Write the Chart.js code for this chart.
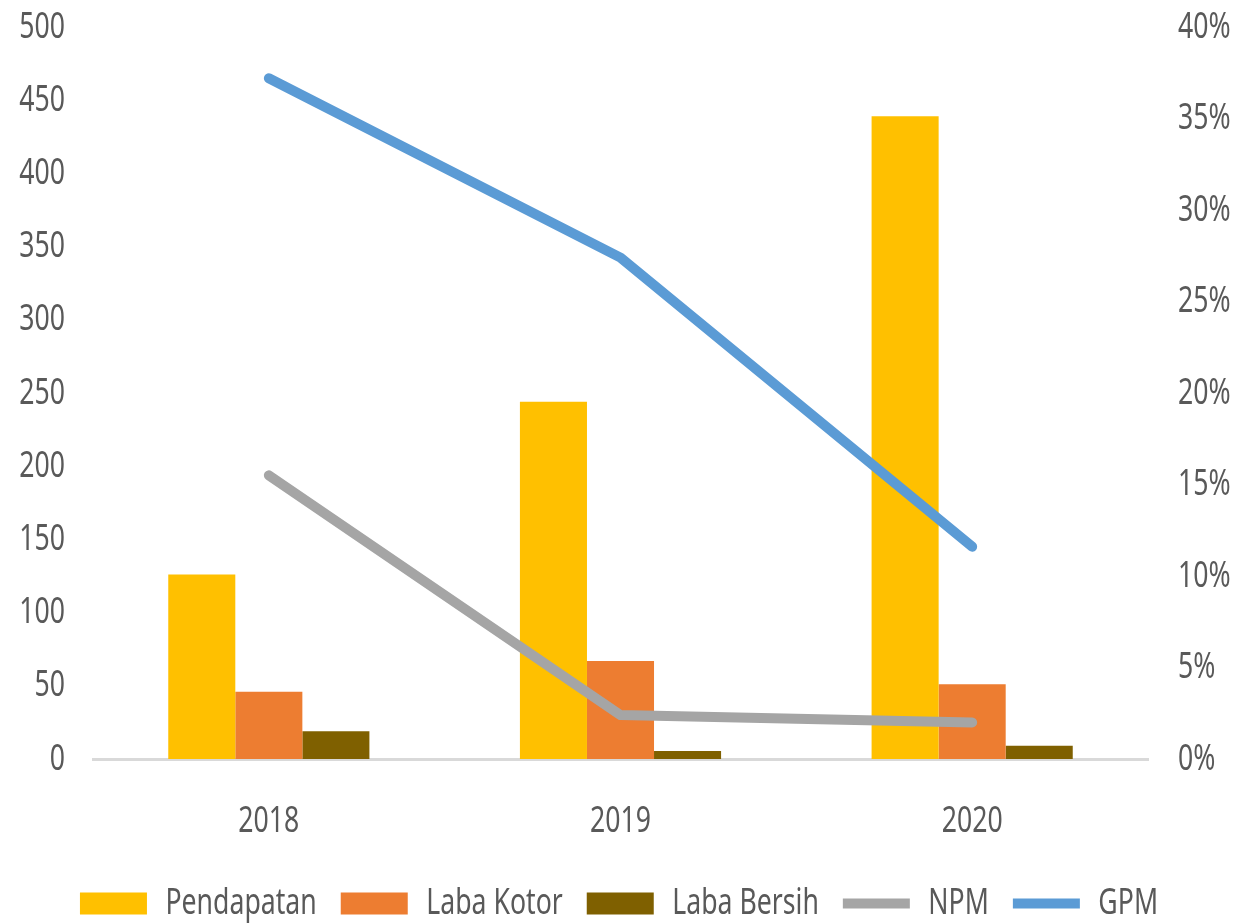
<!DOCTYPE html>
<html>
<head>
<meta charset="utf-8">
<script src="https://cdn.jsdelivr.net/npm/chart.js@4.4.1/dist/chart.umd.min.js"></script>
<style>
  html, body { margin: 0; padding: 0; background: #ffffff; }
  #wrap { width: 1238px; height: 924px; position: relative; }
</style>
</head>
<body>
<div id="wrap"><canvas id="chart"></canvas></div>
<script>
// Data
const years = ['2018', '2019', '2020'];
const pendapatan = [126, 244, 439];
const labaKotor = [46, 67, 51];
const labaBersih = [19, 5.5, 9];
const npm = [15.5, 2.4, 2.0];   // percent
const gpm = [37.2, 27.4, 11.6]; // percent
const leftTicks = [0, 50, 100, 150, 200, 250, 300, 350, 400, 450, 500];
const rightTicks = [0, 5, 10, 15, 20, 25, 30, 35, 40];

const FONT = "'Noto Sans', 'Open Sans', sans-serif";
const FONT_SIZE = 37;
const TEXT = '#595959';

// The original uses a narrow font that is not installed here,
// so squeeze the text horizontally (measure and draw alike).
const SQUEEZE = 0.72;
const proto = CanvasRenderingContext2D.prototype;
const origFillText = proto.fillText;
const origMeasureText = proto.measureText;
proto.fillText = function (text, x, y) {
    this.save();
    this.translate(x, y);
    this.scale(SQUEEZE, 1);
    origFillText.call(this, text, 0, 0);
    this.restore();
};
proto.measureText = function (text) {
    const m = origMeasureText.call(this, text);
    return {
        width: m.width * SQUEEZE,
        actualBoundingBoxLeft: m.actualBoundingBoxLeft * SQUEEZE,
        actualBoundingBoxRight: m.actualBoundingBoxRight * SQUEEZE,
        actualBoundingBoxAscent: m.actualBoundingBoxAscent,
        actualBoundingBoxDescent: m.actualBoundingBoxDescent
    };
};

// push the legend row a bit lower than Chart.js would put it
const legendNudge = {
    id: 'legendNudge',
    afterLayout(chart) {
        chart.legend.top += 8;
        chart.legend.bottom += 8;
    }
};

// y axes: keep the plot top at 27px, no extra room from tick padding
const fixY = (width) => (scale) => {
    scale.width = width;
    scale.paddingTop = 27;
    scale.paddingBottom = 0;
};

const barSet = (label, data, color) => ({
    type: 'bar',
    label: label,
    data: data,
    backgroundColor: color,
    borderWidth: 0,
    yAxisID: 'y',
    order: 1,
    categoryPercentage: 0.572,
    barPercentage: 1.0
});

const lineSet = (label, data, color) => ({
    type: 'line',
    label: label,
    data: data,
    borderColor: color,
    backgroundColor: color,
    borderWidth: 10,
    borderCapStyle: 'round',
    borderJoinStyle: 'round',
    pointRadius: 0,
    pointHoverRadius: 0,
    tension: 0,
    fill: false,
    yAxisID: 'y1',
    order: 0
});

const ctx = document.getElementById('chart').getContext('2d');
new Chart(ctx, {
    data: {
        labels: years,
        datasets: [
            barSet('Pendapatan', pendapatan, '#ffc000'),
            barSet('Laba Kotor', labaKotor, '#ed7d31'),
            barSet('Laba Bersih', labaBersih, '#7f6000'),
            lineSet('NPM', npm, '#a5a5a5'),
            lineSet('GPM', gpm, '#5b9bd5')
        ]
    },
    plugins: [legendNudge],
    options: {
        responsive: true,
        maintainAspectRatio: false,
        animation: false,
        layout: { padding: 0 },
        plugins: {
            tooltip: { enabled: false },
            legend: {
                position: 'bottom',
                labels: {
                    color: TEXT,
                    font: { family: FONT, size: FONT_SIZE },
                    usePointStyle: true,
                    pointStyleWidth: 67,
                    boxWidth: 67,
                    boxHeight: 22,
                    padding: 24,
                    sort: (a, b) => a.datasetIndex - b.datasetIndex,
                    generateLabels: (chart) => {
                        const items = Chart.defaults.plugins.legend.labels.generateLabels(chart);
                        items.forEach(it => {
                            const ds = chart.data.datasets[it.datasetIndex];
                            it.pointStyle = ds.type === 'line' ? 'line' : 'rect';
                            it.lineWidth = ds.type === 'line' ? 10 : 0;
                        });
                        return items;
                    }
                }
            }
        },
        scales: {
            x: {
                grid: { display: false },
                border: { display: true, color: '#d9d9d9', width: 3 },
                ticks: { color: TEXT, font: { family: FONT, size: FONT_SIZE }, padding: 32 },
                afterFit: (scale) => { scale.height = 94; }
            },
            y: {
                position: 'left',
                min: 0,
                max: 500,
                afterBuildTicks: (scale) => { scale.ticks = leftTicks.map(v => ({ value: v })); },
                afterFit: fixY(93),
                grid: { display: false },
                border: { display: false },
                ticks: { color: TEXT, font: { family: FONT, size: FONT_SIZE }, padding: 20 }
            },
            y1: {
                position: 'right',
                min: 0,
                max: 40,
                afterBuildTicks: (scale) => { scale.ticks = rightTicks.map(v => ({ value: v })); },
                afterFit: fixY(90),
                grid: { display: false },
                border: { display: false },
                ticks: {
                    color: TEXT,
                    font: { family: FONT, size: FONT_SIZE },
                    padding: 22,
                    callback: (v) => v + '%'
                }
            }
        }
    }
});
</script>
</body>
</html>
